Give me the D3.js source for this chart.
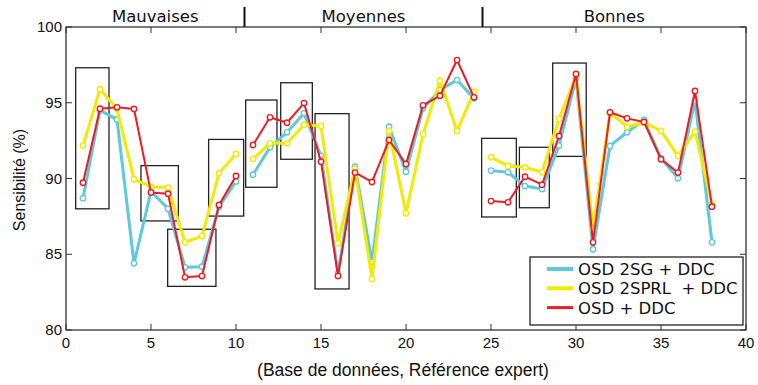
<!DOCTYPE html>
<html><head><meta charset="utf-8">
<script src="https://cdn.jsdelivr.net/npm/d3@7"></script>
<style>body{margin:0;background:#fff}svg{display:block}</style>
</head><body><svg id="c" width="758" height="385"></svg>
<script>
const xs = [1,2,3,4,5,6,7,8,9,10,11,12,13,14,15,16,17,18,19,20,21,22,23,24,25,26,27,28,29,30,31,32,33,34,35,36,37,38];
const segments = [[1,10],[11,24],[25,38]];
const seriesNames = ["OSD 2SG + DDC", "OSD 2SPRL  + DDC", "OSD + DDC"];
const cyanVals = [88.7,94.5,93.9,84.4,89.15,88.0,84.14,84.18,88.14,89.8, 90.25,92.06,93.05,94.3,91.5,83.74,90.78,84.5,93.42,90.45,94.63,95.84,96.5,95.29, 90.52,90.41,89.5,89.31,92.17,96.6,85.33,92.15,93.05,93.86,91.33,90.01,95.14,85.79];
const yellowVals = [92.17,95.89,94.6,89.95,89.46,89.4,85.79,86.2,90.34,91.62, 91.29,92.32,92.32,93.55,93.47,85.72,90.63,83.37,93.16,87.7,92.92,96.46,93.14,95.71, 91.4,90.83,90.74,90.41,93.93,96.77,86.67,94.35,93.42,93.7,93.14,91.49,93.09,88.29];
const redVals = [89.72,94.61,94.7,94.59,89.07,89.0,83.48,83.56,88.25,90.17, 92.21,94.04,93.68,94.98,91.11,83.56,90.39,89.77,92.54,90.95,94.83,95.47,97.82,95.36, 88.51,88.43,90.12,89.59,92.81,96.9,85.79,94.37,93.97,93.73,91.27,90.39,95.78,88.14];
const seriesColors = ["#5ec8dc", "#f2ea00", "#ec1c24"];
const seriesWidths = [3, 3, 2];
const groupLabels = ["Mauvaises", "Moyennes", "Bonnes"];
const groupBounds = [[0,10.5],[10.5,24.5],[24.5,40]];
const boxes = [[0.57,2.53,88.0,97.31],[4.41,6.61,87.2,90.85],[5.98,8.82,82.88,86.65],[8.39,10.45,87.52,92.58],[10.57,12.41,89.42,95.18],[12.63,14.49,91.27,96.32],[14.65,16.65,82.71,94.28],[24.45,26.49,87.46,92.65],[26.67,28.43,88.07,92.06],[28.63,30.6,91.46,97.62]];
const xTicks = [0,5,10,15,20,25,30,35,40];
const yTicks = [80,85,90,95,100];

const svg = d3.select("#c");
const L=66, R=746, T=27, B=330;
const x = d3.scaleLinear().domain([0,40]).range([L,R]);
const y = d3.scaleLinear().domain([80,100]).range([B,T]);
const font = "Liberation Sans, Arial, sans-serif";

// boxes
svg.append("g").selectAll("rect").data(boxes).join("rect")
  .attr("x", d=>x(d[0])).attr("y", d=>y(d[3]))
  .attr("width", d=>x(d[1])-x(d[0])).attr("height", d=>y(d[2])-y(d[3]))
  .attr("fill","none").attr("stroke","#222").attr("stroke-width",1.3);

// series
const allVals = [cyanVals, yellowVals, redVals];
allVals.forEach((vals, si) => {
  const pts = xs.map((xv,i)=>({x:xv, v:vals[i]}));
  const g = svg.append("g");
  segments.forEach(([a,b]) => {
    const seg = pts.filter(p=>p.x>=a && p.x<=b);
    g.append("path").datum(seg)
      .attr("d", d3.line().x(p=>x(p.x)).y(p=>y(p.v)))
      .attr("fill","none").attr("stroke",seriesColors[si]).attr("stroke-width",seriesWidths[si])
      .attr("stroke-linejoin","round");
  });
  g.selectAll("circle").data(pts).join("circle")
    .attr("cx",p=>x(p.x)).attr("cy",p=>y(p.v)).attr("r",2.7)
    .attr("fill","#fff").attr("stroke",seriesColors[si]).attr("stroke-width",1.4);
});

// frame
svg.append("rect").attr("x",L).attr("y",T).attr("width",R-L).attr("height",B-T)
  .attr("fill","none").attr("stroke","#333").attr("stroke-width",1.3);

// ticks
const tl = 6;
const tg = svg.append("g").attr("stroke","#333").attr("stroke-width",1);
xTicks.forEach(t=>{
  tg.append("line").attr("x1",x(t)).attr("x2",x(t)).attr("y1",B).attr("y2",B-tl);
  tg.append("line").attr("x1",x(t)).attr("x2",x(t)).attr("y1",T).attr("y2",T+tl);
});
yTicks.forEach(t=>{
  tg.append("line").attr("x1",L).attr("x2",L+tl).attr("y1",y(t)).attr("y2",y(t));
  tg.append("line").attr("x1",R).attr("x2",R-tl).attr("y1",y(t)).attr("y2",y(t));
});
svg.append("g").selectAll("text").data(xTicks).join("text")
  .attr("x",d=>x(d)).attr("y",348).attr("text-anchor","middle")
  .attr("font-family",font).attr("font-size",15).attr("fill","#111").text(d=>d);
svg.append("g").selectAll("text").data(yTicks).join("text")
  .attr("x",L-4).attr("y",d=>y(d)+5).attr("text-anchor","end")
  .attr("font-family",font).attr("font-size",15).attr("fill","#111").text(d=>d);

// axis titles
svg.append("text").attr("x",403).attr("y",376).attr("text-anchor","middle")
  .attr("font-family",font).attr("font-size",17.5).attr("fill","#111")
  .text("(Base de données, Référence expert)");
svg.append("text").attr("transform","translate(25,180) rotate(-90)").attr("text-anchor","middle")
  .attr("font-family",font).attr("font-size",16).attr("fill","#111").text("Sensibilité (%)");

// group labels & separators
groupLabels.forEach((g,i)=>{
  const [a,b] = groupBounds[i];
  svg.append("text").attr("x",x((a+b)/2)).attr("y",22).attr("text-anchor","middle")
    .attr("font-family","DejaVu Sans, sans-serif").attr("font-size",16.5).attr("fill","#111").text(g);
  if (i>0) svg.append("line").attr("x1",x(a)).attr("x2",x(a)).attr("y1",7).attr("y2",T)
    .attr("stroke","#111").attr("stroke-width",2);
});

// legend
const lg = svg.append("g");
lg.append("rect").attr("x",530).attr("y",257).attr("width",213).attr("height",68)
  .attr("fill","#fff").attr("stroke","#222").attr("stroke-width",1.3);
seriesNames.forEach((n,i)=>{
  const yy = 269 + i*19.3;
  lg.append("line").attr("x1",547).attr("x2",573).attr("y1",yy).attr("y2",yy)
    .attr("stroke",seriesColors[i]).attr("stroke-width",seriesWidths[i]+1);
  lg.append("text").attr("x",578).attr("y",yy+6).attr("font-family","DejaVu Sans, sans-serif")
    .attr("font-size",16.5).attr("fill","#111").attr("xml:space","preserve").style("white-space","pre").text(n);
});
</script></body></html>
